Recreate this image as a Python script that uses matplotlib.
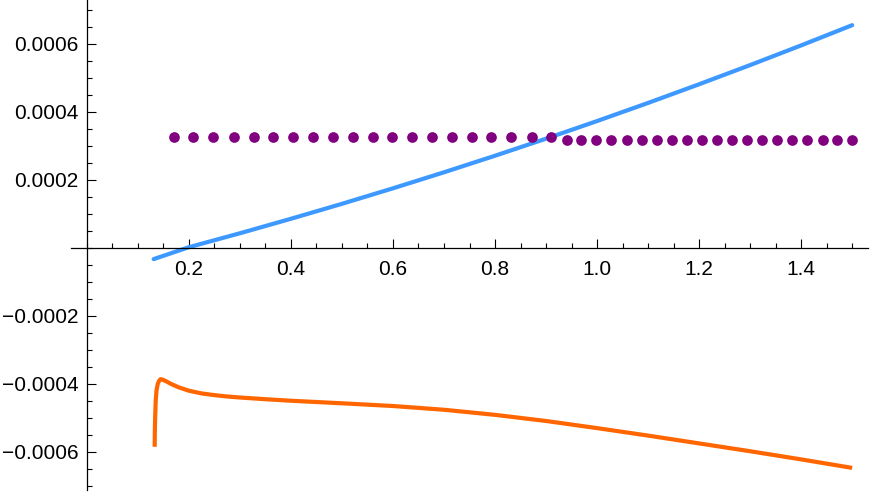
import matplotlib
matplotlib.use("Agg")
import matplotlib.pyplot as plt
from matplotlib.ticker import MultipleLocator, FixedLocator

plt.rcParams['font.family'] = ['Liberation Sans', 'DejaVu Sans']

# blue curve
blue_x = [0.131, 0.2, 0.3, 0.4, 0.5, 0.6, 0.7, 0.8, 0.9, 1.0, 1.1, 1.2, 1.3, 1.4, 1.5]
blue_y = [-0.000033, 0.000002, 0.000043, 0.0000856, 0.0001296, 0.0001752, 0.0002223,
          0.000271, 0.0003212, 0.000373, 0.0004263, 0.0004812, 0.0005376, 0.0005955, 0.000655]

# orange curve
orange_x = [0.133, 0.1333, 0.134, 0.135, 0.1365, 0.139, 0.142, 0.1445, 0.148, 0.155, 0.165,
            0.18, 0.2, 0.225, 0.25, 0.275, 0.3, 0.35, 0.4, 0.5, 0.6, 0.7, 0.8, 0.9,
            1.0, 1.1, 1.2, 1.3, 1.4, 1.5]
orange_y = [-0.000585, -0.00054, -0.000495, -0.00045, -0.00042, -0.0004, -0.00039, -0.000386,
            -0.000387, -0.000392, -0.0004, -0.00041, -0.00042, -0.000428, -0.000433,
            -0.000437, -0.00044, -0.000445, -0.0004495, -0.000457, -0.000465, -0.000476,
            -0.000491, -0.000509, -0.00053, -0.000552, -0.000575, -0.000598, -0.000622,
            -0.000647]

# purple points
dots_x = [0.171, 0.209, 0.248, 0.288, 0.327, 0.365, 0.404, 0.443, 0.482, 0.521,
          0.560, 0.599, 0.638, 0.677, 0.716, 0.754, 0.793, 0.832, 0.872, 0.910,
          0.941, 0.969, 0.998, 1.028, 1.058, 1.088, 1.117, 1.146, 1.176, 1.206,
          1.235, 1.265, 1.294, 1.324, 1.353, 1.383, 1.412, 1.442, 1.471, 1.500]
dots_y = [0.000326] * 20 + [0.000318] * 20

x_ticks = [0.2, 0.4, 0.6, 0.8, 1.0, 1.2, 1.4]
x_labels = ["0.2", "0.4", "0.6", "0.8", "1.0", "1.2", "1.4"]
y_ticks = [-0.0006, -0.0004, -0.0002, 0.0002, 0.0004, 0.0006]
y_labels = ["\u22120.0006", "\u22120.0004", "\u22120.0002", "0.0002", "0.0004", "0.0006"]

fig = plt.figure(figsize=(8.72, 4.96), dpi=100)
ax = fig.add_axes([71 / 872, 6 / 496, (868 - 71) / 872, 490 / 496])

ax.plot(blue_x, blue_y, color='#3D99FF', lw=3, solid_capstyle='round', zorder=2)
ax.plot(orange_x, orange_y, color='#FF6600', lw=3, solid_capstyle='butt',
        solid_joinstyle='round', zorder=2)
ax.plot(dots_x, dots_y, 'o', color='#800080', ms=7.7, mec='none', zorder=3)

ax.set_xlim(-0.031, 1.531)
ax.set_ylim(-0.000712, 0.000729)

for s in ['top', 'right']:
    ax.spines[s].set_visible(False)
ax.spines['left'].set_position(('data', 0))
ax.spines['bottom'].set_position(('data', 0))
for s in ['left', 'bottom']:
    ax.spines[s].set_linewidth(0.9)

ax.xaxis.set_major_locator(FixedLocator(x_ticks))
ax.set_xticklabels(x_labels)
ax.xaxis.set_minor_locator(MultipleLocator(0.05))
ax.yaxis.set_major_locator(FixedLocator(y_ticks))
ax.set_yticklabels(y_labels)
ax.yaxis.set_minor_locator(MultipleLocator(0.00005))

ax.tick_params(which='both', direction='in', width=0.8, labelsize=15, colors='black')
ax.tick_params(which='major', length=6.7)
ax.tick_params(which='minor', length=3.3)
ax.tick_params(axis='x', pad=8.5)
ax.tick_params(axis='y', pad=6)

fig.savefig("out.png", dpi=100)
